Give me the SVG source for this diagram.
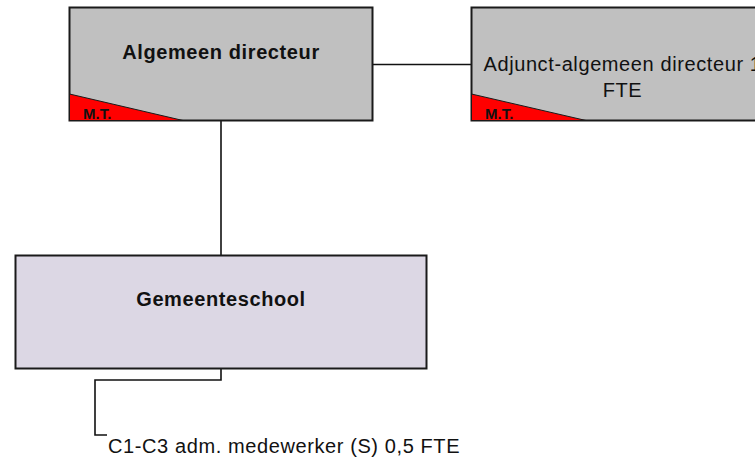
<svg xmlns="http://www.w3.org/2000/svg" width="755" height="466" viewBox="0 0 755 466">
<style>
.box{fill:#c0c0c0;stroke:#1a1a1a;stroke-width:2}
.box2{fill:#dcd7e4;stroke:#1a1a1a;stroke-width:2}
.tri{fill:#ff0000;stroke:#1a1a1a;stroke-width:1}
.lbl{font-family:"Liberation Sans",Arial,sans-serif;font-size:20px;letter-spacing:0.6px;fill:#111}
.b{font-weight:bold}
.mt{font-family:"Liberation Sans",Arial,sans-serif;font-size:15px;font-weight:bold;fill:#111}
.con{fill:none;stroke:#111;stroke-width:1.6}
</style>
<rect width="755" height="466" fill="#ffffff"/>
<g id="connectors">
<line class="con" x1="372" y1="64.5" x2="471" y2="64.5"/>
<line class="con" x1="221" y1="120" x2="221" y2="255"/>
<polyline class="con" points="221,368 221,380 95,380 95,435 107,435"/>
</g>
<g id="algemeen-directeur">
<rect class="box" x="69.5" y="7.5" width="303" height="113"/>
<polygon class="tri" points="69.5,94 183,120.5 69.5,120.5"/>
<text class="mt" x="83" y="119">M.T.</text>
<text class="lbl b" x="221" y="59" text-anchor="middle">Algemeen directeur</text>
</g>
<g id="adjunct-directeur">
<rect class="box" x="471.5" y="7.5" width="303" height="113"/>
<polygon class="tri" points="471.5,94 586,120.5 471.5,120.5"/>
<text class="mt" x="485" y="119">M.T.</text>
<text class="lbl" x="622.5" y="70.5" text-anchor="middle">Adjunct-algemeen directeur 1</text>
<text class="lbl" x="622.5" y="96.5" text-anchor="middle">FTE</text>
</g>
<g id="gemeenteschool">
<rect class="box2" x="15.5" y="255.5" width="411" height="113"/>
<text class="lbl b" x="221" y="306" text-anchor="middle">Gemeenteschool</text>
</g>
<g id="medewerker">
<text class="lbl" x="108" y="453">C1-C3 adm. medewerker (S) 0,5 FTE</text>
</g>
</svg>
